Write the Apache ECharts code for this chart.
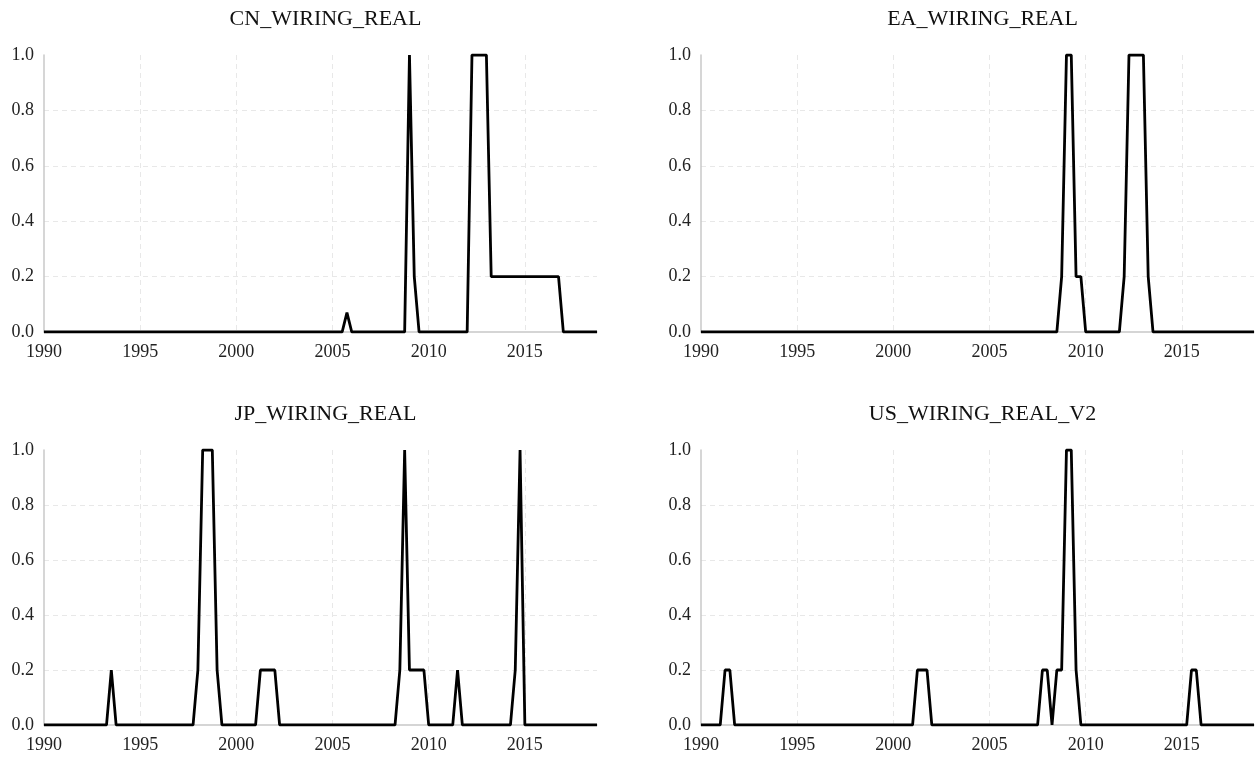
<!DOCTYPE html>
<html>
<head>
<meta charset="utf-8">
<script src="https://cdn.jsdelivr.net/npm/echarts@6/dist/echarts.min.js"></script>
<style>html,body{margin:0;padding:0;background:#fff;}#c{width:1258px;height:759px;}</style>
</head>
<body>
<div id="c"></div>
<script>
// Quarterly observations, one row per year (Q1..Q4), 1990..2018
const years = [1990,1991,1992,1993,1994,1995,1996,1997,1998,1999,2000,2001,2002,2003,2004,2005,2006,2007,2008,2009,2010,2011,2012,2013,2014,2015,2016,2017,2018];
const quarterOffsets = [0, 0.25, 0.5, 0.75];
const xTicks = [1990, 1995, 2000, 2005, 2010, 2015];
const yTicks = ['0.0','0.2','0.4','0.6','0.8','1.0'];
const titles = ['CN_WIRING_REAL','EA_WIRING_REAL','JP_WIRING_REAL','US_WIRING_REAL_V2'];

const cnValues = [
  0,0,0,0, 0,0,0,0, 0,0,0,0, 0,0,0,0, 0,0,0,0, // 1990-1994
  0,0,0,0, 0,0,0,0, 0,0,0,0, 0,0,0,0, 0,0,0,0, // 1995-1999
  0,0,0,0, 0,0,0,0, 0,0,0,0, 0,0,0,0, 0,0,0,0, // 2000-2004
  0,0,0,0.07, 0,0,0,0, 0,0,0,0, 0,0,0,0, 1,0.2,0,0, // 2005-2009
  0,0,0,0, 0,0,0,0, 0,1,1,1, 1,0.2,0.2,0.2, 0.2,0.2,0.2,0.2, // 2010-2014
  0.2,0.2,0.2,0.2, 0.2,0.2,0.2,0.2, 0,0,0,0, 0,0,0,0 // 2015-2018
];
const eaValues = [
  0,0,0,0, 0,0,0,0, 0,0,0,0, 0,0,0,0, 0,0,0,0,
  0,0,0,0, 0,0,0,0, 0,0,0,0, 0,0,0,0, 0,0,0,0,
  0,0,0,0, 0,0,0,0, 0,0,0,0, 0,0,0,0, 0,0,0,0,
  0,0,0,0, 0,0,0,0, 0,0,0,0, 0,0,0,0.2, 1,1,0.2,0.2,
  0,0,0,0, 0,0,0,0, 0.2,1,1,1, 1,0.2,0,0, 0,0,0,0,
  0,0,0,0, 0,0,0,0, 0,0,0,0, 0,0,0,0
];
const jpValues = [
  0,0,0,0, 0,0,0,0, 0,0,0,0, 0,0,0.2,0, 0,0,0,0,
  0,0,0,0, 0,0,0,0, 0,0,0,0, 0.2,1,1,1, 0.2,0,0,0,
  0,0,0,0, 0,0.2,0.2,0.2, 0.2,0,0,0, 0,0,0,0, 0,0,0,0,
  0,0,0,0, 0,0,0,0, 0,0,0,0, 0,0,0.2,1, 0.2,0.2,0.2,0.2,
  0,0,0,0, 0,0,0.2,0, 0,0,0,0, 0,0,0,0, 0,0,0.2,1,
  0,0,0,0, 0,0,0,0, 0,0,0,0, 0,0,0,0
];
const usValues = [
  0,0,0,0, 0,0.2,0.2,0, 0,0,0,0, 0,0,0,0, 0,0,0,0,
  0,0,0,0, 0,0,0,0, 0,0,0,0, 0,0,0,0, 0,0,0,0,
  0,0,0,0, 0,0.2,0.2,0.2, 0,0,0,0, 0,0,0,0, 0,0,0,0,
  0,0,0,0, 0,0,0,0, 0,0,0,0.2, 0.2,0,0.2,0.2, 1,1,0.2,0,
  0,0,0,0, 0,0,0,0, 0,0,0,0, 0,0,0,0, 0,0,0,0,
  0,0,0.2,0.2, 0,0,0,0, 0,0,0,0, 0,0,0,0
];
const allValues = [cnValues, eaValues, jpValues, usValues];

const dates = [];
years.forEach(y => quarterOffsets.forEach(q => dates.push(y + q)));

const FONT = '"Liberation Serif", "Times New Roman", serif';
const grids = [
  {left: 44, top: 55, width: 553, height: 277},
  {left: 701, top: 55, width: 553, height: 277},
  {left: 44, top: 450, width: 553, height: 275},
  {left: 701, top: 450, width: 553, height: 275}
];
const titleTops = [3, 3, 398, 398];

const option = {
  animation: false,
  backgroundColor: '#fff',
  title: grids.map((g, i) => ({
    text: titles[i],
    left: g.left + g.width / 2,
    top: titleTops[i],
    textAlign: 'center',
    textStyle: {fontFamily: FONT, fontSize: 22, fontWeight: 'normal', color: '#111'}
  })),
  grid: grids.map(g => Object.assign({containLabel: false}, g)),
  xAxis: grids.map((g, i) => ({
    type: 'value', gridIndex: i,
    min: xTicks[0], max: dates[dates.length - 1], interval: 5,
    axisLine: {show: true, lineStyle: {color: '#c8c8c8', width: 1.5}},
    axisTick: {show: false},
    axisLabel: {
      fontFamily: FONT, fontSize: 18, color: '#222', margin: 11,
      showMaxLabel: false,
      formatter: v => (xTicks.indexOf(v) >= 0 ? String(v) : '')
    },
    splitLine: {show: true, showMinLine: false, showMaxLine: false,
      lineStyle: {color: '#e8e8e8', type: [5, 4], width: 1}}
  })),
  yAxis: grids.map((g, i) => ({
    type: 'value', gridIndex: i, min: 0, max: 1, interval: 0.2,
    axisLine: {show: true, lineStyle: {color: '#c8c8c8', width: 1.5}},
    axisTick: {show: false},
    axisLabel: {
      fontFamily: FONT, fontSize: 18, color: '#222', margin: 10,
      formatter: v => yTicks[Math.round(v * 5)]
    },
    splitLine: {show: true, showMinLine: false, showMaxLine: false,
      lineStyle: {color: '#e8e8e8', type: [5, 4], width: 1}}
  })),
  series: allValues.map((vals, i) => ({
    type: 'line', xAxisIndex: i, yAxisIndex: i,
    data: vals.map((v, k) => [dates[k], v]),
    showSymbol: false, symbol: 'none',
    lineStyle: {color: '#000', width: 2.8},
    itemStyle: {color: '#000'}
  }))
};

const chart = echarts.init(document.getElementById('c'), null, {renderer: 'canvas'});
chart.setOption(option);
</script>
</body>
</html>
